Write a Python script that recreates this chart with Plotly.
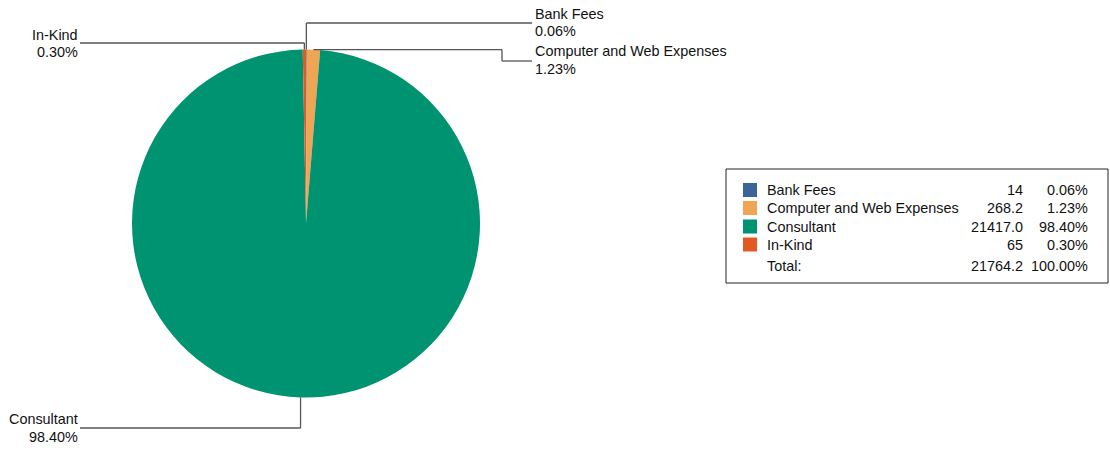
import math
import plotly.graph_objects as go

# ---- data ----
categories = ["Bank Fees", "Computer and Web Expenses", "Consultant", "In-Kind"]
values = [14, 268.2, 21417.0, 65]
value_text = ["14", "268.2", "21417.0", "65"]
total_text = "21764.2"
colors = ["#3A6599", "#F0A554", "#009371", "#E15A24"]

W, H = 1110, 450
FONT = "Liberation Sans, Arial, sans-serif"
FS = 14.4
TXT = "#111111"
LINE = "#555555"

# pie geometry (pixels)
cx, cy, r = 306, 223.5, 174

total = sum(values)
pcts = [v / total * 100 for v in values]

fig = go.Figure()
fig.add_trace(go.Pie(
    labels=categories, values=values, sort=False, direction="clockwise",
    rotation=0, textinfo="none", hoverinfo="label+value+percent",
    marker=dict(colors=colors, line=dict(width=0)),
    domain=dict(x=[(cx - r) / W, (cx + r) / W], y=[1 - (cy + r) / H, 1 - (cy - r) / H]),
    showlegend=False,
))

# slice mid-angles -> anchor points on circle
anchors = []
cum = 0
for v in values:
    mid = (cum + v / 2) / total * 2 * math.pi
    anchors.append((cx + r * math.sin(mid), cy - r * math.cos(mid)))
    cum += v

shapes = []
annotations = []

def seg(pts):
    for (x0, y0), (x1, y1) in zip(pts[:-1], pts[1:]):
        shapes.append(dict(type="line", xref="x", yref="y", x0=x0, y0=y0, x1=x1, y1=y1,
                           line=dict(color=LINE, width=1.3)))

def label(x, y, text, anchor):
    annotations.append(dict(xref="x", yref="y", x=x, y=y, text=text, showarrow=False,
                            xanchor=anchor, yanchor="middle",
                            font=dict(family=FONT, size=FS, color=TXT)))

# Bank Fees
ax, ay = anchors[0]
seg([(ax, ay), (ax, 23), (532, 23)])
label(533, 14, categories[0], "left")
label(533, 31, f"{pcts[0]:.2f}%", "left")
# Computer
ax, ay = anchors[1]
seg([(ax, ay), (502, ay), (502, 61), (532, 61)])
label(533, 51, categories[1], "left")
label(533, 69, f"{pcts[1]:.2f}%", "left")
# Consultant
ax, ay = anchors[2]
seg([(ax, ay), (ax, 428), (80, 428)])
label(80, 419, categories[2], "right")
label(80, 437, f"{pcts[2]:.2f}%", "right")
# In-Kind
ax, ay = anchors[3]
seg([(ax, ay), (ax, 43), (80, 43)])
label(80, 35, categories[3], "right")
label(80, 52, f"{pcts[3]:.2f}%", "right")

# legend table
shapes.append(dict(type="rect", xref="x", yref="y", x0=726, y0=169, x1=1108, y1=283,
                   line=dict(color="#222222", width=1), fillcolor="rgba(0,0,0,0)"))
row_y = [190, 208, 226.5, 244.5]
for i, yy in enumerate(row_y):
    shapes.append(dict(type="rect", xref="x", yref="y", x0=743, x1=757, y0=yy - 7, y1=yy + 7,
                       line=dict(width=0), fillcolor=colors[i]))
    label(765, yy, categories[i], "left")
    label(1025, yy, value_text[i], "right")
    label(1090, yy, f"{pcts[i]:.2f}%", "right")
label(765, 266, "Total:", "left")
label(1025, 266, total_text, "right")
label(1090, 266, f"{sum(pcts):.2f}%", "right")

fig.update_layout(
    width=W, height=H, margin=dict(l=0, r=0, t=0, b=0),
    paper_bgcolor="white", plot_bgcolor="rgba(0,0,0,0)",
    xaxis=dict(range=[0, W], visible=False, fixedrange=True),
    yaxis=dict(range=[H, 0], visible=False, fixedrange=True),
    shapes=shapes, annotations=annotations,
)

fig.write_html("out.html", config={"displayModeBar": False},
               post_script="document.body.style.margin='0';document.body.style.overflow='hidden';")
